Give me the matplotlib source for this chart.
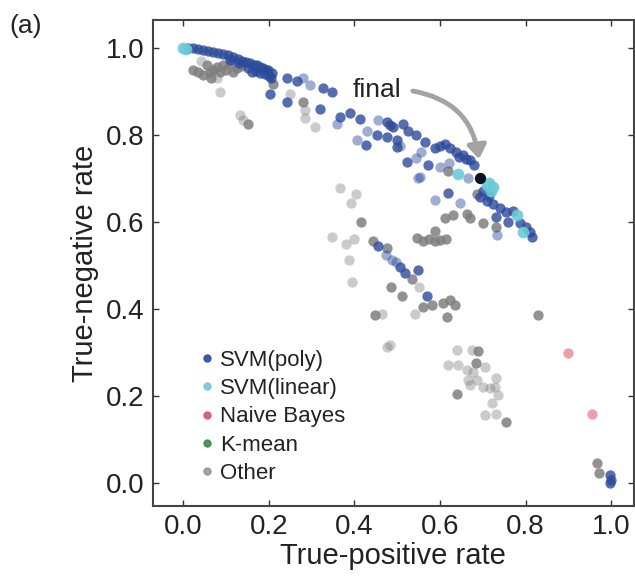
import matplotlib
matplotlib.use("Agg")
import matplotlib.pyplot as plt
from matplotlib.lines import Line2D
from matplotlib.patches import FancyArrowPatch

plt.rcParams['font.family'] = ['Liberation Sans', 'DejaVu Sans']

# ---------------- data ----------------
poly_dark_x = [0.01, 0.023, 0.035, 0.046, 0.058, 0.07, 0.082, 0.093, 0.105, 0.116, 0.127, 0.137,
               0.147, 0.156, 0.165, 0.172, 0.18, 0.186, 0.193, 0.198, 0.207,
               0.15, 0.17, 0.19, 0.2, 0.16, 0.13, 0.11, 0.18, 0.205,
               0.203, 0.242, 0.265, 0.327, 0.347, 0.242, 0.32, 0.366, 0.39, 0.413, 0.483, 0.452,
               0.475, 0.5, 0.428, 0.5, 0.477, 0.49, 0.514, 0.525, 0.545, 0.565, 0.588, 0.612,
               0.623, 0.638, 0.653, 0.67, 0.68, 0.522, 0.571, 0.618, 0.693, 0.709, 0.724, 0.74,
               0.755, 0.771, 0.787, 0.802, 0.81, 0.814, 0.455, 0.507, 0.519, 0.549, 0.569,
               0.997, 0.999, 0.997, 0.7, 0.715, 0.73, 0.76, 0.66, 0.645, 0.6]
poly_dark_y = [1.0, 0.999, 0.997, 0.995, 0.993, 0.99, 0.988, 0.987, 0.984, 0.98, 0.975, 0.97,
               0.968, 0.965, 0.962, 0.96, 0.956, 0.953, 0.95, 0.95, 0.943,
               0.955, 0.948, 0.94, 0.935, 0.945, 0.965, 0.972, 0.942, 0.93,
               0.895, 0.932, 0.925, 0.907, 0.898, 0.875, 0.859, 0.842, 0.85, 0.836, 0.822, 0.8,
               0.795, 0.788, 0.776, 0.772, 0.829, 0.818, 0.826, 0.81, 0.8, 0.783, 0.771, 0.78,
               0.769, 0.76, 0.753, 0.742, 0.73, 0.737, 0.73, 0.666, 0.656, 0.649, 0.642, 0.631,
               0.622, 0.626, 0.597, 0.588, 0.576, 0.564, 0.544, 0.496, 0.482, 0.49, 0.429,
               0.018, 0.006, 0.0, 0.67, 0.66, 0.61, 0.6, 0.745, 0.75, 0.775]

poly_light_x = [0.28, 0.296, 0.359, 0.455, 0.405, 0.506, 0.545, 0.599, 0.548, 0.665, 0.588,
                0.646, 0.553, 0.474, 0.487, 0.498, 0.734, 0.43, 0.555, 0.62]
poly_light_y = [0.932, 0.914, 0.826, 0.834, 0.788, 0.774, 0.746, 0.726, 0.7, 0.702, 0.65,
                0.643, 0.703, 0.523, 0.512, 0.507, 0.569, 0.81, 0.76, 0.735]

linear_x = [0.0, 0.005, 0.642, 0.709, 0.724, 0.715, 0.78, 0.795, 0.72]
linear_y = [1.0, 0.998, 0.711, 0.684, 0.679, 0.69, 0.615, 0.576, 0.672]

bayes_x = [0.899, 0.955]
bayes_y = [0.297, 0.158]

kmean_x = []
kmean_y = []

final_x = [0.693]
final_y = [0.702]

other_dark_x = [0.023, 0.046, 0.062, 0.078, 0.093, 0.11, 0.125, 0.035, 0.1, 0.055, 0.07, 0.085,
                0.115, 0.135, 0.065,
                0.21, 0.28, 0.152, 0.415, 0.443, 0.476, 0.535, 0.485, 0.511, 0.581, 0.561, 0.608,
                0.623, 0.635, 0.448, 0.616, 0.588, 0.546, 0.56, 0.574, 0.588, 0.6, 0.614, 0.611,
                0.63, 0.662, 0.67, 0.618, 0.686, 0.7, 0.731, 0.829, 0.966, 0.971, 0.688, 0.684,
                0.754, 0.639]
other_dark_y = [0.95, 0.937, 0.944, 0.956, 0.96, 0.964, 0.955, 0.945, 0.95, 0.96, 0.95, 0.945,
                0.945, 0.958, 0.932,
                0.918, 0.875, 0.826, 0.599, 0.557, 0.54, 0.468, 0.45, 0.429, 0.408, 0.404, 0.413,
                0.42, 0.408, 0.385, 0.38, 0.58, 0.562, 0.557, 0.56, 0.555, 0.558, 0.56, 0.608,
                0.615, 0.619, 0.608, 0.718, 0.665, 0.597, 0.588, 0.385, 0.045, 0.022, 0.303, 0.275,
                0.139, 0.203]

other_light_x = [0.078, 0.04, 0.086, 0.25, 0.284, 0.284, 0.308, 0.132, 0.14, 0.366, 0.403, 0.392,
                 0.347, 0.38, 0.398, 0.388, 0.394, 0.551, 0.464, 0.541, 0.639, 0.674, 0.619, 0.642,
                 0.705, 0.663, 0.677, 0.665, 0.686, 0.67, 0.7, 0.716, 0.732, 0.728, 0.736, 0.721,
                 0.705, 0.731, 0.476, 0.483]
other_light_y = [0.93, 0.97, 0.898, 0.895, 0.857, 0.839, 0.818, 0.845, 0.835, 0.677, 0.663, 0.643,
                 0.565, 0.548, 0.56, 0.513, 0.462, 0.45, 0.387, 0.387, 0.305, 0.305, 0.27, 0.27,
                 0.266, 0.259, 0.255, 0.236, 0.236, 0.225, 0.22, 0.218, 0.24, 0.22, 0.201, 0.183,
                 0.155, 0.158, 0.312, 0.316]

legend_labels = ["SVM(poly)", "SVM(linear)", "Naive Bayes", "K-mean", "Other"]
x_ticks = [0.0, 0.2, 0.4, 0.6, 0.8, 1.0]
y_ticks = [0.0, 0.2, 0.4, 0.6, 0.8, 1.0]

# ---------------- colours ----------------
c_poly = "#2c4a9c"
c_lin = "#6ccad8"
c_bayes = "#e05060"
c_kmean = "#3a8a4e"
c_other = "#7f7f7f"

fig = plt.figure(figsize=(6.35, 5.77), dpi=100)
ax = fig.add_axes([0.241, 0.123, 0.757, 0.842])

S = 55
ax.scatter(other_light_x, other_light_y, s=S, color=c_other, alpha=0.4, lw=0, zorder=2)
ax.scatter(other_dark_x, other_dark_y, s=S, color=c_other, alpha=0.85, lw=0, zorder=2)
ax.scatter(poly_light_x, poly_light_y, s=S, color=c_poly, alpha=0.45, lw=0, zorder=3)
ax.scatter(poly_dark_x, poly_dark_y, s=S, color=c_poly, alpha=0.8, lw=0, zorder=3)
ax.scatter(linear_x, linear_y, s=S * 1.3, color=c_lin, alpha=0.9, lw=0, zorder=4)
ax.scatter(bayes_x, bayes_y, s=S, color=c_bayes, alpha=0.55, lw=0, zorder=4)
ax.scatter(kmean_x, kmean_y, s=S, color=c_kmean, alpha=0.8, lw=0, zorder=4)
ax.scatter(final_x, final_y, s=S * 1.2, color="#0a0f25", lw=0, zorder=5)

# annotation
ax.text(0.452, 0.903, "final", fontsize=19, ha="center", va="center", color="#222222")
arrow = FancyArrowPatch((0.53, 0.902), (0.692, 0.738), connectionstyle="arc3,rad=-0.38",
                        arrowstyle="-|>,head_length=0.5,head_width=0.35", mutation_scale=16,
                        lw=3.5, color="#a3a3a3", zorder=6)
ax.add_patch(arrow)

ax.set_xlim(-0.071, 1.053)
ax.set_ylim(-0.054, 1.064)
ax.set_xticks(x_ticks)
ax.set_yticks(y_ticks)
ax.set_xticklabels([f"{v:.1f}" for v in x_ticks])
ax.set_yticklabels([f"{v:.1f}" for v in y_ticks])
ax.tick_params(direction="in", length=4, width=1, labelsize=20, colors="#333333",
               top=True, right=True, pad=6)
ax.tick_params(axis="x", labelcolor="#222222")
ax.tick_params(axis="y", labelcolor="#222222")
for sp in ax.spines.values():
    sp.set_linewidth(1.5)
    sp.set_color("#444444")

ax.set_xlabel("True-positive rate", fontsize=21, color="#222222", labelpad=1)
ax.set_ylabel("True-negative rate", fontsize=21, color="#222222", labelpad=5)

handles = [Line2D([], [], marker="o", ls="", color=c, markersize=5, alpha=a)
           for c, a in [(c_poly, 0.9), (c_lin, 0.9), (c_bayes, 0.9), (c_kmean, 0.9), (c_other, 0.7)]]
ax.legend(handles, legend_labels, loc="upper left", bbox_to_anchor=(0.07, 0.34),
          frameon=False, fontsize=16, handletextpad=0.1, labelspacing=0.33,
          handlelength=1.0, borderaxespad=0, labelcolor="#222222")

fig.text(0.015, 0.975, "(a)", fontsize=19, ha="left", va="top", color="#222222")

fig.savefig("out.png", dpi=100)
